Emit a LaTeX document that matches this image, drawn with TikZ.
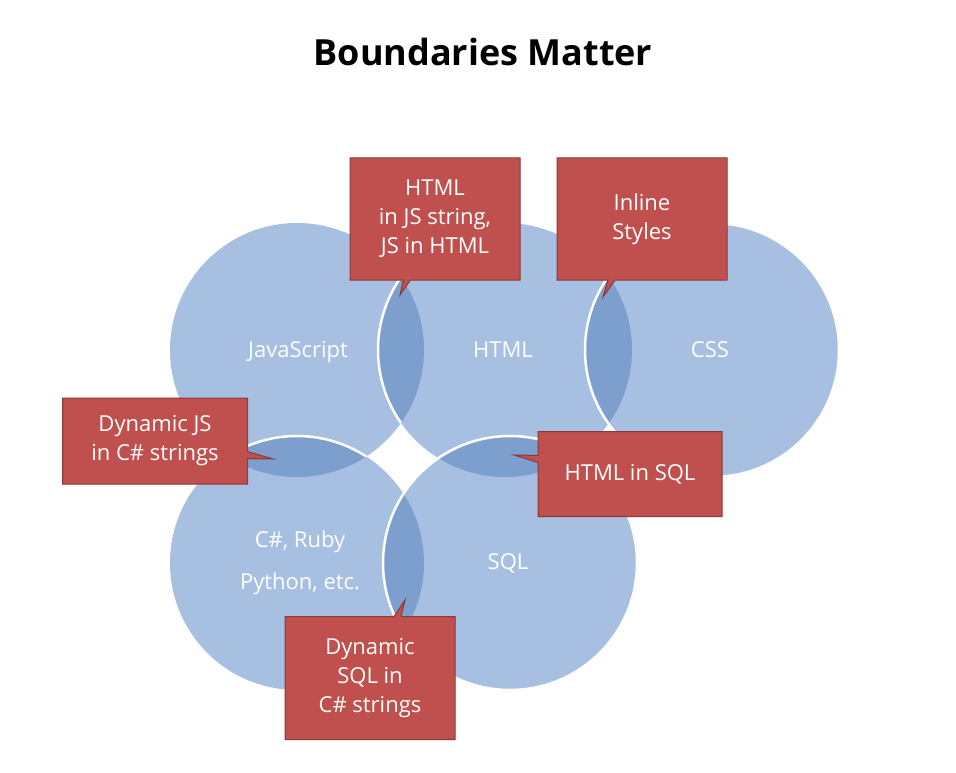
\documentclass[tikz,border=0pt]{standalone}
\usepackage{fontspec}
\setmainfont{Open Sans}
\usetikzlibrary{shapes.callouts}
\definecolor{lightblue}{HTML}{A7BFE0}
\definecolor{darkblue}{HTML}{7C9FCD}
\definecolor{boxred}{HTML}{C0504D}
\definecolor{boxedge}{HTML}{8C3836}
\tikzset{
  ring/.style={fill=lightblue},
  seam/.style={draw=white,line width=2.5pt},
  tag/.style={rectangle callout,fill=boxred,draw=boxedge,line width=1pt,text=white,
    font=\fontsize{22}{29}\selectfont,align=center,inner sep=2pt},
  lang/.style={text=white,font=\fontsize{22}{29}\selectfont}
}
\begin{document}
\begin{tikzpicture}[x=1pt,y=-1pt]
\useasboundingbox (0,0) rectangle (956,773);
\fill[white] (0,0) rectangle (956,773);
\node[font=\fontsize{36}{40}\selectfont\bfseries] (title) at (483,52) {Boundaries Matter};
% circles
\coordinate (js) at (297,350);
\coordinate (html) at (505,350);
\coordinate (css) at (712,350);
\coordinate (cs) at (297,563);
\coordinate (sql) at (510,563);
\foreach \c in {js,html,css,cs,sql}
  \fill[ring] (\c) circle (127);
% overlaps
\foreach \a/\b in {js/html,html/css,js/cs,html/sql,cs/sql}{
  \begin{scope}
    \clip (\a) circle (127);
    \fill[darkblue] (\b) circle (127);
  \end{scope}
}
% white seams
\begin{scope}
  \clip (js) circle (127);
  \draw[seam] (html) circle (127);
  \draw[seam] (cs) circle (127);
\end{scope}
\draw[seam] (css) circle (127);
\draw[seam] (sql) circle (127);
% labels
\node[lang] (jsl) at (298,352) {JavaScript};
\node[lang] (htmll) at (503,350) {HTML};
\node[lang] (cssl) at (710,350) {CSS};
\node[lang,align=center,font=\fontsize{22}{42}\selectfont] (csl) at (300,563) {C\#, Ruby\\Python, etc.};
\node[lang] (sqll) at (508,563) {SQL};
% callouts
\coordinate (p1) at (400,295);
\coordinate (p2) at (603,297);
\coordinate (p3) at (273,459);
\coordinate (p4) at (514,455);
\coordinate (p5) at (405,600);
\node[tag,minimum width=170,minimum height=122,callout absolute pointer=(p1)] (t1) at (435,219) {HTML\\in JS string,\\JS in HTML};
\node[tag,minimum width=170,minimum height=122,callout absolute pointer=(p2)] (t2) at (642,219) {Inline\\Styles};
\node[tag,minimum width=185,minimum height=86,callout absolute pointer=(p3)] (t3) at (155,441) {Dynamic JS\\in C\# strings};
\node[tag,minimum width=184,minimum height=85,callout absolute pointer=(p4)] (t4) at (630,474) {HTML in SQL};
\node[tag,minimum width=170,minimum height=123,callout absolute pointer=(p5)] (t5) at (370,678) {Dynamic\\SQL in\\C\# strings};
\end{tikzpicture}
\end{document}
